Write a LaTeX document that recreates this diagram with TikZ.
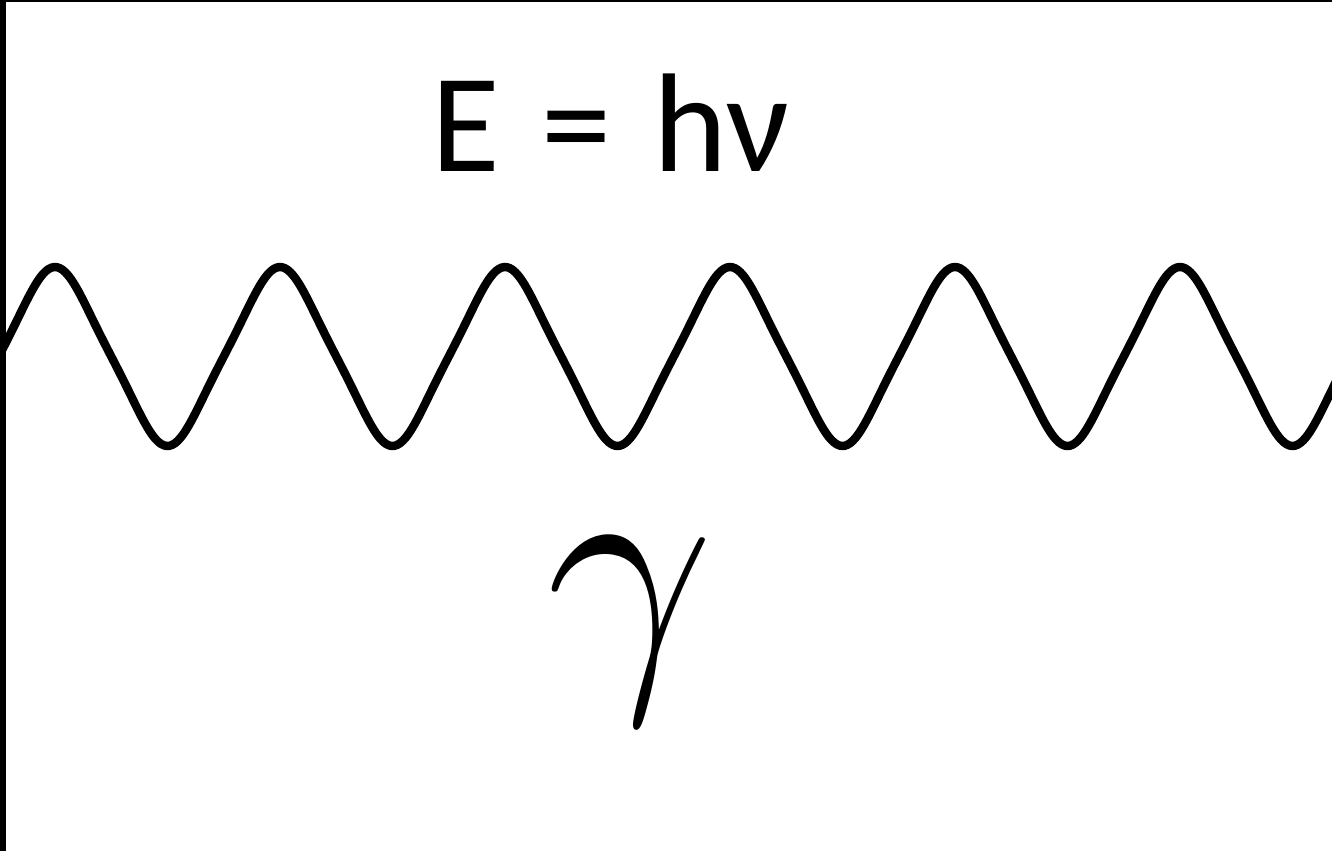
\documentclass[tikz,border=0pt]{standalone}
\usepackage{fix-cm}
\usepackage{fontspec}
\setsansfont{Carlito}
\newfontfamily\eqnfont{Carlito}[WordSpace=1.3]
\usepackage{tikz}

\begin{document}
\begin{tikzpicture}[
  font=\sffamily,
  wave/.style={line width=2.4pt,line join=round},
  eqn/.style={inner sep=0pt,anchor=base,font=\eqnfont\fontsize{40}{40}\selectfont},
  sym/.style={inner sep=0pt,anchor=base,font=\fontsize{85}{85}\selectfont},
]
\useasboundingbox (0,0) rectangle (13.32,8.51);

% Photon wave
\begin{scope}
  \clip (0,0) rectangle (13.32,8.51);
  \draw[wave] plot[domain=-0.2:13.5,samples=500,smooth]
    (\x,{4.945+0.895*(sin(160*(\x-0.55)+90)-0.0593*sin(3*(160*(\x-0.55)+90)))/1.0593});
\end{scope}

% Energy
\node[eqn] (energy) at (6.11,6.79) {E = hν};

% Gamma
\node[sym] (gamma) at (6.30,1.85) {$\gamma$};

% Frame edges
\fill (0,0) rectangle (0.06,8.51);
\fill (0,8.49) rectangle (13.32,8.51);

\end{tikzpicture}
\end{document}
